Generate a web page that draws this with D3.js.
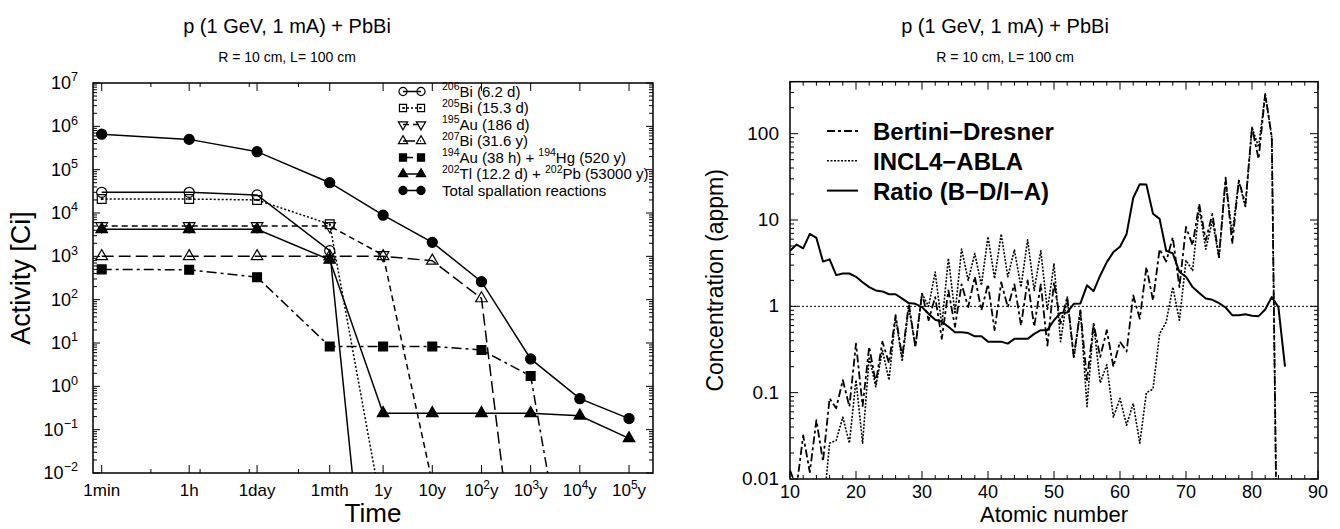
<!DOCTYPE html>
<html>
<head>
<meta charset="utf-8">
<script src="https://cdn.jsdelivr.net/npm/d3@7"></script>
<style>
  body { margin: 0; background: #fff; }
  svg { display: block; font-family: "Liberation Sans", Arial, sans-serif; }
</style>
</head>
<body>
<svg id="chart" width="1340" height="529"></svg>
<script>
// ---------- left panel data: activity vs cooling time ----------
const timeLabels = ["1min", "1h", "1day", "1mth", "1y", "10y", "10^{2}y", "10^{3}y", "10^{4}y", "10^{5}y"];
const timeMinutes = [1, 60, 1440, 43200, 525600, 5.256e6, 5.256e7, 5.256e8, 5.256e9, 5.256e10];
const minorTimeTicks = [10, 100, 1000, 10000];

const bi206 = [3.0e4, 3.0e4, 2.6e4, 1.35e3, 1e-9];
const bi205 = [2.1e4, 2.1e4, 2.0e4, 5.5e3, 1e-3];
const au195 = [5.0e3, 5.0e3, 5.0e3, 5.0e3, 1.07e3, 6e-3];
const bi207 = [1.0e3, 1.0e3, 1.0e3, 1.0e3, 1.0e3, 7.9e2, 1.07e2, 5e-8];
const au194 = [500, 490, 330, 8.3, 8.3, 8.3, 6.9, 1.73, 6e-7];
const tl202 = [4.2e3, 4.2e3, 4.2e3, 8.3e2, 0.24, 0.24, 0.24, 0.24, 0.21, 0.063];
const totalSpall = [6.6e5, 5.0e5, 2.6e5, 5.0e4, 8.9e3, 2.1e3, 260, 4.3, 0.52, 0.18];

const activityExps = [-2, -1, 0, 1, 2, 3, 4, 5, 6, 7];

// ---------- right panel data: concentration vs atomic number ----------
const zBertiniStart = 10;
const bertini = [0.0126, 0.008, 0.032, 0.012, 0.048, 0.016, 0.086, 0.066, 0.14, 0.069,
  0.37, 0.07, 0.34, 0.13, 0.39, 0.22, 0.79, 0.26, 1.07, 0.34,
  1.4, 0.69, 1.28, 0.42, 1.53, 0.58, 1.8, 0.98, 2.2, 0.9,
  1.8, 0.53, 1.9, 0.98, 1.8, 0.6, 2.0, 0.58, 1.8, 0.35,
  1.9, 0.63, 1.28, 0.26, 0.9, 0.14, 0.63, 0.26, 0.53, 0.2,
  0.39, 0.3, 1.34, 0.72, 2.85, 1.17, 4.6, 3.3, 6.3, 1.67,
  8.3, 5.1, 15.4, 5.8, 11.8, 3.7, 31, 5.3, 28.6, 15.4,
  118, 51, 288, 91, 0.00005];

const zInclStart = 15;
const incl4 = [0.004, 0.026, 0.028, 0.052, 0.026,
  0.14, 0.026, 0.26, 0.117, 0.31, 0.14, 0.75, 0.23, 0.98, 0.34,
  1.4, 1.0, 2.5, 0.6, 3.6, 0.82, 4.6, 2.0, 4.1, 1.75,
  6.4, 2.1, 6.9, 2.2, 4.5, 1.67, 5.9, 1.53, 4.4, 0.9,
  3.1, 0.39, 1.28, 0.25, 0.9, 0.069, 0.63, 0.13, 0.21, 0.052,
  0.086, 0.042, 0.075, 0.026, 0.1, 0.11, 0.48, 0.66, 1.67, 0.69,
  3.4, 2.6, 14, 4.6, 9.9, 3.7, 28.6, 6.9, 28.6, 14,
  118, 70, 288, 91, 0.00005];

const zRatioStart = 10;
const ratio = [4.4, 5.2, 4.7, 6.9, 6.2, 3.3, 3.5, 2.3, 2.4, 2.4,
  2.2, 1.9, 1.67, 1.53, 1.49, 1.38, 1.38, 1.23, 1.09, 1.07,
  0.98, 0.82, 0.70, 0.66, 0.58, 0.50, 0.50, 0.49, 0.45, 0.45,
  0.39, 0.39, 0.39, 0.37, 0.42, 0.42, 0.42, 0.48, 0.53, 0.53,
  0.69, 0.84, 0.85, 1.07, 1.08, 1.75, 1.5, 2.28, 3.25, 4.25,
  4.9, 6.9, 18, 26, 25.7, 11.8, 10.3, 4.4, 4.1, 2.5,
  2.2, 1.67, 1.43, 1.23, 1.19, 1.09, 0.97, 0.79, 0.79, 0.81,
  0.78, 0.77, 0.92, 1.28, 0.98, 0.20];

const concTicks = [0.01, 0.1, 1, 10, 100];
const concTickLabels = ["0.01", "0.1", "1", "10", "100"];
const zTicks = [10, 20, 30, 40, 50, 60, 70, 80, 90];

// ---------- helpers ----------
const svg = d3.select("#chart");

// text with ^{...} superscripts
function richText(sel, str, fs) {
  const parts = str.split(/\^\{([^}]*)\}/);
  let raised = false;
  parts.forEach((p, i) => {
    if (!p) return;
    const ts = sel.append("tspan").text(p);
    if (i % 2 === 1) {
      ts.attr("font-size", fs * 0.7).attr("dy", raised ? 0 : -fs * 0.42);
      raised = true;
    } else {
      ts.attr("font-size", fs).attr("dy", raised ? fs * 0.42 : 0);
      raised = false;
    }
  });
}

function marker(g, type, x, y, k) {
  k = k || 1;
  const sym = d3.symbol();
  let path, rot = 0, fill = "none";
  if (type === "circle" || type === "circleFill") { path = sym.type(d3.symbolCircle).size(80 * k * k)(); fill = type === "circleFill" ? "#000" : "none"; }
  if (type === "square" || type === "squareFill") { path = sym.type(d3.symbolSquare).size(78 * k * k)(); fill = type === "squareFill" ? "#000" : "none"; }
  if (type === "triUp" || type === "triUpFill" || type === "triDown") { path = sym.type(d3.symbolTriangle).size(58 * k * k)(); fill = type === "triUpFill" ? "#000" : "none"; }
  if (type === "triDown") rot = 180;
  g.append("path")
    .attr("d", path)
    .attr("transform", `translate(${x},${y}) rotate(${rot})`)
    .attr("fill", fill)
    .attr("stroke", "#000")
    .attr("stroke-width", 1.2);
  if (type === "square") {
    g.append("circle").attr("cx", x).attr("cy", y).attr("r", 1.1 * k).attr("fill", "#000");
  }
}

// ---------- left panel ----------
const L = { x0: 93, x1: 653, y0: 83, y1: 473 };
const xT = d3.scaleLog().domain([0.665, 1.614e11]).range([L.x0, L.x1]);
const yA = d3.scaleLog().domain([1e-2, 1e7]).range([L.y1, L.y0]);

svg.append("text").attr("x", 287).attr("y", 33).attr("text-anchor", "middle")
  .attr("font-size", 20).text("p (1 GeV, 1 mA) + PbBi");
svg.append("text").attr("x", 287).attr("y", 62).attr("text-anchor", "middle")
  .attr("font-size", 14).text("R = 10 cm, L= 100 cm");

svg.append("defs").append("clipPath").attr("id", "clipL")
  .append("rect").attr("x", L.x0).attr("y", L.y0).attr("width", L.x1 - L.x0).attr("height", L.y1 - L.y0);

const gL = svg.append("g");
const ticksL = gL.append("g").attr("stroke", "#000").attr("stroke-width", 1);

// y ticks (major decades + minor 2..9)
activityExps.forEach(e => {
  const v = Math.pow(10, e);
  const y = yA(v);
  ticksL.append("line").attr("x1", L.x0).attr("x2", L.x0 + 7).attr("y1", y).attr("y2", y);
  ticksL.append("line").attr("x1", L.x1).attr("x2", L.x1 - 7).attr("y1", y).attr("y2", y);
  if (e < 7) {
    for (let k = 2; k <= 9; k++) {
      const ym = yA(k * v);
      ticksL.append("line").attr("x1", L.x0).attr("x2", L.x0 + 4).attr("y1", ym).attr("y2", ym);
      ticksL.append("line").attr("x1", L.x1).attr("x2", L.x1 - 4).attr("y1", ym).attr("y2", ym);
    }
  }
  const lbl = gL.append("text").attr("x", 78).attr("y", y + 6).attr("text-anchor", "end").attr("font-size", 18);
  richText(lbl, "10^{" + String(e).replace("-", "\u2212") + "}", 18);
});

// x ticks
timeMinutes.forEach((t, i) => {
  const x = xT(t);
  ticksL.append("line").attr("x1", x).attr("x2", x).attr("y1", L.y1).attr("y2", L.y1 - 8);
  ticksL.append("line").attr("x1", x).attr("x2", x).attr("y1", L.y0).attr("y2", L.y0 + 8);
  const lbl = gL.append("text").attr("x", x).attr("y", 496).attr("text-anchor", "middle").attr("font-size", 17);
  richText(lbl, timeLabels[i], 17);
});
minorTimeTicks.forEach(t => {
  const x = xT(t);
  ticksL.append("line").attr("x1", x).attr("x2", x).attr("y1", L.y1).attr("y2", L.y1 - 4);
  ticksL.append("line").attr("x1", x).attr("x2", x).attr("y1", L.y0).attr("y2", L.y0 + 4);
});

gL.append("rect").attr("x", L.x0).attr("y", L.y0).attr("width", L.x1 - L.x0).attr("height", L.y1 - L.y0)
  .attr("fill", "none").attr("stroke", "#000").attr("stroke-width", 1.5);

gL.append("text").attr("transform", `translate(30,${(L.y0 + L.y1) / 2}) rotate(-90)`)
  .attr("text-anchor", "middle").attr("font-size", 27).text("Activity [Ci]");
gL.append("text").attr("x", (L.x0 + L.x1) / 2).attr("y", 522)
  .attr("text-anchor", "middle").attr("font-size", 26).text("Time");

const isotopes = [
  { name: "^{206}Bi (6.2 d)", values: bi206, mark: "circle", dash: null },
  { name: "^{205}Bi (15.3 d)", values: bi205, mark: "square", dash: "2,2" },
  { name: "^{195}Au (186 d)", values: au195, mark: "triDown", dash: "6,4" },
  { name: "^{207}Bi (31.6 y)", values: bi207, mark: "triUp", dash: "12,5" },
  { name: "^{194}Au (38 h) + ^{194}Hg (520 y)", values: au194, mark: "squareFill", dash: "10,4,3,4" },
  { name: "^{202}Tl (12.2 d) + ^{202}Pb (53000 y)", values: tl202, mark: "triUpFill", dash: null },
  { name: "Total spallation reactions", values: totalSpall, mark: "circleFill", dash: null }
];

const lineT = d3.line().x(d => xT(d.t)).y(d => yA(d.v));
const plotL = gL.append("g").attr("clip-path", "url(#clipL)");
isotopes.forEach(s => {
  const pts = s.values.map((v, i) => ({ t: timeMinutes[i], v }));
  plotL.append("path").datum(pts).attr("d", lineT)
    .attr("fill", "none").attr("stroke", "#000").attr("stroke-width", 1.5)
    .attr("stroke-dasharray", s.dash);
  pts.forEach(p => {
    if (p.v >= 1e-2) marker(plotL, s.mark, xT(p.t), yA(p.v));
  });
});

// left legend
isotopes.forEach((s, i) => {
  const y = 91.5 + i * 16.5;
  gL.append("line").attr("x1", 403).attr("x2", 421).attr("y1", y).attr("y2", y)
    .attr("stroke", "#000").attr("stroke-width", 1.5).attr("stroke-dasharray", s.dash);
  marker(gL, s.mark, 403, y, 0.8);
  marker(gL, s.mark, 421, y, 0.8);
  const t = gL.append("text").attr("x", 442).attr("y", y + 5).attr("font-size", 15);
  richText(t, s.name, 15);
});

// ---------- right panel ----------
const R = { x0: 790, x1: 1318, y0: 81.7, y1: 479 };
const xZ = d3.scaleLinear().domain([10, 90]).range([R.x0, R.x1]);
const yC = d3.scaleLog().domain([0.01, 400]).range([R.y1, R.y0]);

svg.append("text").attr("x", 1005).attr("y", 33).attr("text-anchor", "middle")
  .attr("font-size", 20).text("p (1 GeV, 1 mA) + PbBi");
svg.append("text").attr("x", 1005).attr("y", 62).attr("text-anchor", "middle")
  .attr("font-size", 14).text("R = 10 cm, L= 100 cm");

svg.select("defs").append("clipPath").attr("id", "clipR")
  .append("rect").attr("x", R.x0).attr("y", R.y0).attr("width", R.x1 - R.x0).attr("height", R.y1 - R.y0);

const gR = svg.append("g");
const ticksR = gR.append("g").attr("stroke", "#000").attr("stroke-width", 1);

concTicks.forEach((v, i) => {
  const y = yC(v);
  ticksR.append("line").attr("x1", R.x0).attr("x2", R.x0 + 8).attr("y1", y).attr("y2", y);
  ticksR.append("line").attr("x1", R.x1).attr("x2", R.x1 - 8).attr("y1", y).attr("y2", y);
  for (let k = 2; k <= 9; k++) {
    const vm = k * v;
    if (vm > 400) break;
    const ym = yC(vm);
    ticksR.append("line").attr("x1", R.x0).attr("x2", R.x0 + 4).attr("y1", ym).attr("y2", ym);
    ticksR.append("line").attr("x1", R.x1).attr("x2", R.x1 - 4).attr("y1", ym).attr("y2", ym);
  }
  gR.append("text").attr("x", 779).attr("y", y + 6).attr("text-anchor", "end")
    .attr("font-size", 19).text(concTickLabels[i]);
});

for (let z = 10; z <= 90; z += 2) {
  const x = xZ(z);
  const len = z % 10 === 0 ? 8 : 4;
  ticksR.append("line").attr("x1", x).attr("x2", x).attr("y1", R.y1).attr("y2", R.y1 - len);
  ticksR.append("line").attr("x1", x).attr("x2", x).attr("y1", R.y0).attr("y2", R.y0 + len);
}
zTicks.forEach(z => {
  gR.append("text").attr("x", xZ(z)).attr("y", 498).attr("text-anchor", "middle")
    .attr("font-size", 18).text(z);
});

gR.append("line").attr("x1", R.x0).attr("x2", R.x1).attr("y1", yC(1)).attr("y2", yC(1))
  .attr("stroke", "#000").attr("stroke-width", 1).attr("stroke-dasharray", "2,2");

gR.append("rect").attr("x", R.x0).attr("y", R.y0).attr("width", R.x1 - R.x0).attr("height", R.y1 - R.y0)
  .attr("fill", "none").attr("stroke", "#000").attr("stroke-width", 1.5);

gR.append("text").attr("transform", `translate(723,${(R.y0 + R.y1) / 2}) rotate(-90)`)
  .attr("text-anchor", "middle").attr("font-size", 23).text("Concentration (appm)");
gR.append("text").attr("x", (R.x0 + R.x1) / 2).attr("y", 522)
  .attr("text-anchor", "middle").attr("font-size", 22).text("Atomic number");

const models = [
  { name: "Bertini\u2212Dresner", z0: zBertiniStart, values: bertini, dash: "8,3,3,3", w: 1.8 },
  { name: "INCL4\u2212ABLA", z0: zInclStart, values: incl4, dash: "2,1.5", w: 1.6 },
  { name: "Ratio (B\u2212D/I\u2212A)", z0: zRatioStart, values: ratio, dash: null, w: 2 }
];

const lineZ = d3.line().x(d => xZ(d.z)).y(d => yC(d.v));
const plotR = gR.append("g").attr("clip-path", "url(#clipR)");
models.forEach((m, j) => {
  const pts = m.values.map((v, i) => ({ z: m.z0 + i, v }));
  plotR.append("path").datum(pts).attr("d", lineZ)
    .attr("fill", "none").attr("stroke", "#000").attr("stroke-width", m.w)
    .attr("stroke-dasharray", m.dash).attr("stroke-linejoin", "round");

  const yb = 140 + j * 29.8;
  gR.append("line").attr("x1", 827).attr("x2", 858).attr("y1", yb - 9).attr("y2", yb - 9)
    .attr("stroke", "#000").attr("stroke-width", m.w).attr("stroke-dasharray", m.dash);
  gR.append("text").attr("x", 873).attr("y", yb).attr("font-size", 24).attr("font-weight", "bold").text(m.name);
});
</script>
</body>
</html>
